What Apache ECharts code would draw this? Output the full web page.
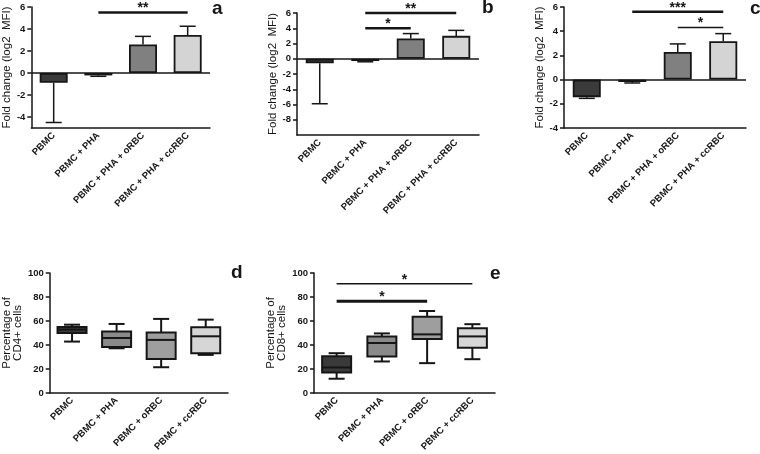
<!DOCTYPE html>
<html><head><meta charset="utf-8">
<script src="https://cdn.jsdelivr.net/npm/echarts@6/dist/echarts.min.js"></script>
<style>html,body{margin:0;padding:0;background:#fff}#c{width:760px;height:454px}</style>
</head><body><div id="c"></div>
<script>
// ---- data ----
const catsTop = ['PBMC', 'PBMC + PHA', 'PBMC + PHA + oRBC', 'PBMC + PHA + ccRBC'];
const catsBottom = ['PBMC', 'PBMC + PHA', 'PBMC + oRBC', 'PBMC + ccRBC'];

const meanA = [-0.88, -0.22, 2.6, 3.45];
const errEndA = [-4.5, -0.3, 3.33, 4.25];
const meanB = [-0.6, -0.3, 2.65, 3.0];
const errEndB = [-5.9, -0.4, 3.3, 3.72];
const meanC = [-1.45, -0.2, 2.28, 3.17];
const errEndC = [-1.55, -0.28, 2.95, 3.8];

// [min, Q1, median, Q3, max]
const boxD = [[42.8, 50, 52.8, 55, 56.9], [37.2, 38.3, 45.8, 51.1, 57.5], [21.4, 28.3, 44.2, 50.3, 61.7], [31.7, 33.1, 47.2, 54.7, 61.1]];
const boxE = [[11.8, 17.1, 21.2, 30.6, 33.1], [26.2, 30.3, 41.6, 47.1, 49.6], [24.8, 44.9, 48.8, 63.6, 68.3], [28.1, 37.7, 47.1, 54, 57.3]];

// significance: [from category, to category, height]
const sigA = [[1, 3, 5.5]];
const sigALabels = ['**'];
const sigB = [[1, 2, 4], [1, 3, 6]];
const sigBLabels = ['*', '**'];
const sigC = [[1, 3, 5.6], [2, 3, 4.3]];
const sigCLabels = ['***', '*'];
const sigE = [[0, 3, 91], [0, 2, 76.5]];
const sigELabels = ['*', '*'];

const yTicksA = [-4, -2, 0, 2, 4, 6];
const yTicksB = [-8, -6, -4, -2, 0, 2, 4, 6];
const yTicksC = [-4, -2, 0, 2, 4, 6];
const yTicksDE = [0, 20, 40, 60, 80, 100];

// ---- styles ----
const INK = '#161616';
const FONT = '"Liberation Sans", Arial, sans-serif';
const barColors = ['#3b3b3b', '#111111', '#808080', '#d4d4d4'];
const boxColors = ['#3a3a3a', '#8a8a8a', '#9e9e9e', '#d6d6d6'];
const sigWidthA = [2.5];
const sigWidthB = [2.5, 2.5];
const sigWidthC = [2.5, 1.5];
const sigWidthE = [1.5, 3];

const grids = [
  {left: 28, top: 7, width: 182, height: 121},
  {left: 297, top: 13, width: 182, height: 122},
  {left: 564, top: 7, width: 182, height: 121},
  {left: 45, top: 273, width: 183, height: 120},
  {left: 314, top: 273, width: 181, height: 121}
];

function xAxis(gi, cats) {
  return {
    type: 'category', gridIndex: gi, data: cats, position: 'bottom',
    axisLine: {onZero: false, lineStyle: {color: INK, width: 1.5}},
    axisTick: {alignWithLabel: true, length: 4, lineStyle: {color: INK, width: 1.5}},
    axisLabel: {interval: 0, rotate: 45, fontSize: 9.5, fontWeight: 'bold', color: INK, margin: 6, fontFamily: FONT},
    splitLine: {show: false}
  };
}
function yAxis(gi, min, max, ticks, name, gap) {
  return {
    type: 'value', gridIndex: gi, min: min, max: max,
    name: name, nameLocation: 'middle', nameGap: gap, nameRotate: 90,
    nameTextStyle: {fontSize: 11.5, color: INK, fontFamily: FONT, lineHeight: 11},
    axisLine: {show: true, lineStyle: {color: INK, width: 1.5}},
    axisTick: {show: true, length: 4, customValues: ticks, lineStyle: {color: INK, width: 1.5}},
    axisLabel: {customValues: ticks, fontSize: 9.5, fontWeight: 'bold', color: INK, margin: 6, fontFamily: FONT},
    splitLine: {show: false}
  };
}

function errRender(params, api) {
  const i = api.value(0), m = api.value(1), e = api.value(2);
  const p0 = api.coord([i, m]), p1 = api.coord([i, e]);
  const hw = 8;
  return {type: 'group', children: [
    {type: 'line', shape: {x1: p0[0], y1: p0[1], x2: p1[0], y2: p1[1]}, style: {stroke: INK, lineWidth: 1.5}},
    {type: 'line', shape: {x1: p1[0] - hw, y1: p1[1], x2: p1[0] + hw, y2: p1[1]}, style: {stroke: INK, lineWidth: 1.5}}
  ]};
}
function makeSigRender(labels, widths) {
  return function (params, api) {
    const a = api.coord([api.value(0), api.value(2)]);
    const b = api.coord([api.value(1), api.value(2)]);
    return {type: 'group', children: [
      {type: 'line', shape: {x1: a[0], y1: a[1], x2: b[0], y2: b[1]}, style: {stroke: INK, lineWidth: widths[params.dataIndex]}},
      {type: 'text', style: {text: labels[params.dataIndex], x: (a[0] + b[0]) / 2, y: a[1] + 3, textAlign: 'center', textVerticalAlign: 'bottom', font: 'bold 14px ' + FONT, fill: INK}}
    ]};
  };
}
function boxRender(params, api) {
  const i = api.value(0);
  const mn = api.value(1), q1 = api.value(2), md = api.value(3), q3 = api.value(4), mx = api.value(5);
  const x = api.coord([i, md])[0];
  const y = v => api.coord([i, v])[1];
  const w = 29, cw = 8;
  const ls = {stroke: INK, lineWidth: 2};
  return {type: 'group', children: [
    {type: 'line', shape: {x1: x, y1: y(mx), x2: x, y2: y(q3)}, style: ls},
    {type: 'line', shape: {x1: x, y1: y(q1), x2: x, y2: y(mn)}, style: ls},
    {type: 'line', shape: {x1: x - cw, y1: y(mx), x2: x + cw, y2: y(mx)}, style: ls},
    {type: 'line', shape: {x1: x - cw, y1: y(mn), x2: x + cw, y2: y(mn)}, style: ls},
    {type: 'rect', shape: {x: x - w / 2, y: y(q3), width: w, height: y(q1) - y(q3)}, style: {fill: boxColors[params.dataIndex], stroke: INK, lineWidth: 2}},
    {type: 'line', shape: {x1: x - w / 2, y1: y(md), x2: x + w / 2, y2: y(md)}, style: ls}
  ]};
}

function barSeries(gi, means) {
  return {
    type: 'bar', xAxisIndex: gi, yAxisIndex: gi, barWidth: 28, z: 3,
    data: means.map((v, i) => ({value: v, itemStyle: {color: barColors[i]}})),
    itemStyle: {borderColor: INK, borderWidth: 1.8},
    markLine: {silent: true, symbol: 'none', animation: false, data: [{yAxis: 0}],
      lineStyle: {color: INK, width: 1.5, type: 'solid'}, label: {show: false}}
  };
}
function errSeries(gi, means, ends) {
  return {type: 'custom', xAxisIndex: gi, yAxisIndex: gi, z: 2, renderItem: errRender,
    encode: {x: 0, y: [1, 2]}, data: means.map((m, i) => [i, m, ends[i]])};
}
function sigSeries(gi, sig, labels, widths) {
  return {type: 'custom', xAxisIndex: gi, yAxisIndex: gi, z: 4, renderItem: makeSigRender(labels, widths),
    encode: {x: [0, 1], y: 2}, data: sig};
}
function boxSeries(gi, boxes) {
  return {type: 'custom', xAxisIndex: gi, yAxisIndex: gi, z: 3, renderItem: boxRender,
    encode: {x: 0, y: [1, 2, 3, 4, 5]}, data: boxes.map((b, i) => [i].concat(b))};
}

const panelLabel = (t, x, y) => ({type: 'text', left: x, top: y, style: {text: t, font: 'bold 19px ' + FONT, fill: INK}});

const option = {
  animation: false,
  backgroundColor: '#fff',
  textStyle: {fontFamily: FONT},
  grid: grids,
  xAxis: [xAxis(0, catsTop), xAxis(1, catsTop), xAxis(2, catsTop), xAxis(3, catsBottom), xAxis(4, catsBottom)],
  yAxis: [
    yAxis(0, -5, 6, yTicksA, 'Fold change (log2  MFI)', 17),
    yAxis(1, -10, 6, yTicksB, 'Fold change (log2  MFI)', 13),
    yAxis(2, -4, 6, yTicksC, 'Fold change (log2  MFI)', 17),
    yAxis(3, 0, 100, yTicksDE, 'Percentage of\nCD4+ cells', 20),
    yAxis(4, 0, 100, yTicksDE, 'Percentage of\nCD8+ cells', 27)
  ],
  series: [
    barSeries(0, meanA), errSeries(0, meanA, errEndA), sigSeries(0, sigA, sigALabels, sigWidthA),
    barSeries(1, meanB), errSeries(1, meanB, errEndB), sigSeries(1, sigB, sigBLabels, sigWidthB),
    barSeries(2, meanC), errSeries(2, meanC, errEndC), sigSeries(2, sigC, sigCLabels, sigWidthC),
    boxSeries(3, boxD),
    boxSeries(4, boxE), sigSeries(4, sigE, sigELabels, sigWidthE)
  ],
  graphic: [
    panelLabel('a', 212, -1),
    panelLabel('b', 482, -2),
    panelLabel('c', 750, -1),
    panelLabel('d', 231, 263),
    panelLabel('e', 490, 264)
  ]
};
const chart = echarts.init(document.getElementById('c'), null, {renderer: 'canvas'});
chart.setOption(option);
</script>
</body></html>
